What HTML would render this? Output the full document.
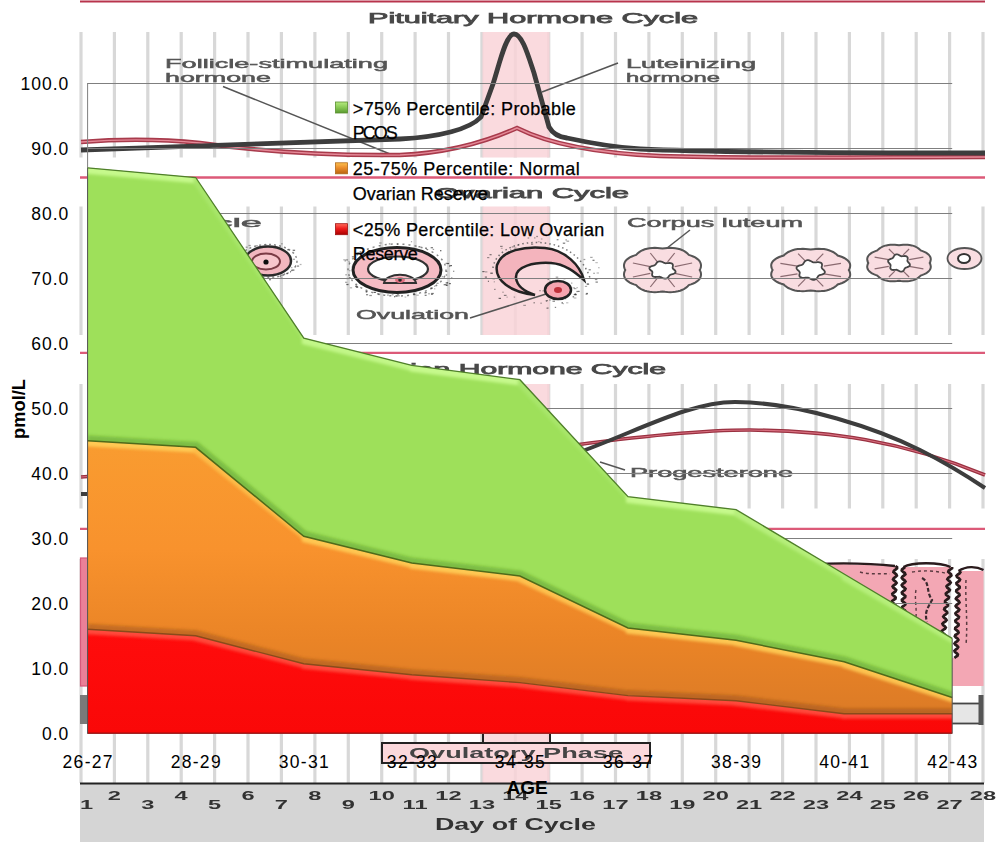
<!DOCTYPE html><html><head><meta charset="utf-8"><style>
html,body{margin:0;padding:0;background:#fff;width:1006px;height:843px;overflow:hidden}
svg{display:block}
text{font-family:"Liberation Sans",sans-serif}
</style></head><body>
<svg width="1006" height="843" viewBox="0 0 1006 843">
<defs>
<filter id="bl" x="-5%" y="-5%" width="110%" height="110%"><feGaussianBlur stdDeviation="0.7"/></filter>
<filter id="bl3" x="-5%" y="-20%" width="110%" height="140%"><feGaussianBlur stdDeviation="1.8"/></filter>
<filter id="bl2" x="-5%" y="-20%" width="110%" height="140%"><feGaussianBlur stdDeviation="1.2"/></filter>
<linearGradient id="gOr" gradientUnits="userSpaceOnUse" x1="0" y1="440" x2="0" y2="714"><stop offset="0" stop-color="#f99c30"/><stop offset="0.4" stop-color="#f8922d"/><stop offset="0.73" stop-color="#ea8426"/><stop offset="1" stop-color="#dc7b26"/></linearGradient>
<linearGradient id="gRd" x1="0" y1="0" x2="0" y2="1"><stop offset="0" stop-color="#ff0c0c"/><stop offset="1" stop-color="#fa0808"/></linearGradient>

<clipPath id="cG"><path d="M87.6,167.8 195.7,177.5 303.8,338.1 411.8,365.4 519.9,379.7 628.0,496.7 736.1,509.7 844.1,574.0 952.2,638.4 L952.2,697.5 844.1,661.8 736.1,640.3 628.0,628.0 519.9,576.0 411.8,563.0 303.8,536.3 195.7,447.3 87.6,440.8 Z"/></clipPath>
<clipPath id="cO"><path d="M87.6,440.8 195.7,447.3 303.8,536.3 411.8,563.0 519.9,576.0 628.0,628.0 736.1,640.3 844.1,661.8 952.2,697.5 L952.2,713.8 844.1,713.8 736.1,700.8 628.0,695.6 519.9,682.6 411.8,674.8 303.8,663.8 195.7,635.8 87.6,629.3 Z"/></clipPath>
<clipPath id="cR"><path d="M87.6,733.3 L87.6,629.3 195.7,635.8 303.8,663.8 411.8,674.8 519.9,682.6 628.0,695.6 736.1,700.8 844.1,713.8 952.2,713.8 L952.2,733.3 Z"/></clipPath>
<linearGradient id="mG" x1="0" y1="0" x2="0" y2="1"><stop offset="0" stop-color="#b6ea80"/><stop offset="0.45" stop-color="#8ccc58"/><stop offset="1" stop-color="#5a9a30"/></linearGradient>
<linearGradient id="mO" x1="0" y1="0" x2="0" y2="1"><stop offset="0" stop-color="#fcc050"/><stop offset="0.45" stop-color="#ec8e2c"/><stop offset="1" stop-color="#b86410"/></linearGradient>
<linearGradient id="mR" x1="0" y1="0" x2="0" y2="1"><stop offset="0" stop-color="#ff6a5a"/><stop offset="0.45" stop-color="#ee1c1c"/><stop offset="1" stop-color="#a80000"/></linearGradient>
</defs>
<g id="bg">
<line x1="80" y1="1.6" x2="985" y2="1.6" stroke="#b8344c" stroke-width="2"/>
<line x1="80" y1="177.5" x2="985" y2="177.5" stroke="#dc5a78" stroke-width="2.3"/>
<line x1="80" y1="352.8" x2="985" y2="352.8" stroke="#dc5a78" stroke-width="2.3"/>
<line x1="80" y1="528.8" x2="985" y2="528.8" stroke="#dc5a78" stroke-width="2.3"/>
<g stroke="#d8d8d8" stroke-width="3.2">
<line x1="81.0" y1="32" x2="81.0" y2="157.5"/>
<line x1="114.4" y1="32" x2="114.4" y2="157.5"/>
<line x1="147.8" y1="32" x2="147.8" y2="157.5"/>
<line x1="181.2" y1="32" x2="181.2" y2="157.5"/>
<line x1="214.6" y1="32" x2="214.6" y2="157.5"/>
<line x1="248.0" y1="32" x2="248.0" y2="157.5"/>
<line x1="281.4" y1="32" x2="281.4" y2="157.5"/>
<line x1="314.9" y1="32" x2="314.9" y2="157.5"/>
<line x1="348.3" y1="32" x2="348.3" y2="157.5"/>
<line x1="381.7" y1="32" x2="381.7" y2="157.5"/>
<line x1="415.1" y1="32" x2="415.1" y2="157.5"/>
<line x1="448.5" y1="32" x2="448.5" y2="157.5"/>
<line x1="481.9" y1="32" x2="481.9" y2="157.5"/>
<line x1="515.3" y1="32" x2="515.3" y2="157.5"/>
<line x1="548.7" y1="32" x2="548.7" y2="157.5"/>
<line x1="582.1" y1="32" x2="582.1" y2="157.5"/>
<line x1="615.5" y1="32" x2="615.5" y2="157.5"/>
<line x1="648.9" y1="32" x2="648.9" y2="157.5"/>
<line x1="682.3" y1="32" x2="682.3" y2="157.5"/>
<line x1="715.7" y1="32" x2="715.7" y2="157.5"/>
<line x1="749.1" y1="32" x2="749.1" y2="157.5"/>
<line x1="782.6" y1="32" x2="782.6" y2="157.5"/>
<line x1="816.0" y1="32" x2="816.0" y2="157.5"/>
<line x1="849.4" y1="32" x2="849.4" y2="157.5"/>
<line x1="882.8" y1="32" x2="882.8" y2="157.5"/>
<line x1="916.2" y1="32" x2="916.2" y2="157.5"/>
<line x1="949.6" y1="32" x2="949.6" y2="157.5"/>
<line x1="983.0" y1="32" x2="983.0" y2="157.5"/>
<line x1="81.0" y1="206.5" x2="81.0" y2="335"/>
<line x1="114.4" y1="206.5" x2="114.4" y2="335"/>
<line x1="147.8" y1="206.5" x2="147.8" y2="335"/>
<line x1="181.2" y1="206.5" x2="181.2" y2="335"/>
<line x1="214.6" y1="206.5" x2="214.6" y2="335"/>
<line x1="248.0" y1="206.5" x2="248.0" y2="335"/>
<line x1="281.4" y1="206.5" x2="281.4" y2="335"/>
<line x1="314.9" y1="206.5" x2="314.9" y2="335"/>
<line x1="348.3" y1="206.5" x2="348.3" y2="335"/>
<line x1="381.7" y1="206.5" x2="381.7" y2="335"/>
<line x1="415.1" y1="206.5" x2="415.1" y2="335"/>
<line x1="448.5" y1="206.5" x2="448.5" y2="335"/>
<line x1="481.9" y1="206.5" x2="481.9" y2="335"/>
<line x1="515.3" y1="206.5" x2="515.3" y2="335"/>
<line x1="548.7" y1="206.5" x2="548.7" y2="335"/>
<line x1="582.1" y1="206.5" x2="582.1" y2="335"/>
<line x1="615.5" y1="206.5" x2="615.5" y2="335"/>
<line x1="648.9" y1="206.5" x2="648.9" y2="335"/>
<line x1="682.3" y1="206.5" x2="682.3" y2="335"/>
<line x1="715.7" y1="206.5" x2="715.7" y2="335"/>
<line x1="749.1" y1="206.5" x2="749.1" y2="335"/>
<line x1="782.6" y1="206.5" x2="782.6" y2="335"/>
<line x1="816.0" y1="206.5" x2="816.0" y2="335"/>
<line x1="849.4" y1="206.5" x2="849.4" y2="335"/>
<line x1="882.8" y1="206.5" x2="882.8" y2="335"/>
<line x1="916.2" y1="206.5" x2="916.2" y2="335"/>
<line x1="949.6" y1="206.5" x2="949.6" y2="335"/>
<line x1="983.0" y1="206.5" x2="983.0" y2="335"/>
<line x1="81.0" y1="384" x2="81.0" y2="508.5"/>
<line x1="114.4" y1="384" x2="114.4" y2="508.5"/>
<line x1="147.8" y1="384" x2="147.8" y2="508.5"/>
<line x1="181.2" y1="384" x2="181.2" y2="508.5"/>
<line x1="214.6" y1="384" x2="214.6" y2="508.5"/>
<line x1="248.0" y1="384" x2="248.0" y2="508.5"/>
<line x1="281.4" y1="384" x2="281.4" y2="508.5"/>
<line x1="314.9" y1="384" x2="314.9" y2="508.5"/>
<line x1="348.3" y1="384" x2="348.3" y2="508.5"/>
<line x1="381.7" y1="384" x2="381.7" y2="508.5"/>
<line x1="415.1" y1="384" x2="415.1" y2="508.5"/>
<line x1="448.5" y1="384" x2="448.5" y2="508.5"/>
<line x1="481.9" y1="384" x2="481.9" y2="508.5"/>
<line x1="515.3" y1="384" x2="515.3" y2="508.5"/>
<line x1="548.7" y1="384" x2="548.7" y2="508.5"/>
<line x1="582.1" y1="384" x2="582.1" y2="508.5"/>
<line x1="615.5" y1="384" x2="615.5" y2="508.5"/>
<line x1="648.9" y1="384" x2="648.9" y2="508.5"/>
<line x1="682.3" y1="384" x2="682.3" y2="508.5"/>
<line x1="715.7" y1="384" x2="715.7" y2="508.5"/>
<line x1="749.1" y1="384" x2="749.1" y2="508.5"/>
<line x1="782.6" y1="384" x2="782.6" y2="508.5"/>
<line x1="816.0" y1="384" x2="816.0" y2="508.5"/>
<line x1="849.4" y1="384" x2="849.4" y2="508.5"/>
<line x1="882.8" y1="384" x2="882.8" y2="508.5"/>
<line x1="916.2" y1="384" x2="916.2" y2="508.5"/>
<line x1="949.6" y1="384" x2="949.6" y2="508.5"/>
<line x1="983.0" y1="384" x2="983.0" y2="508.5"/>
<line x1="81.0" y1="559" x2="81.0" y2="783"/>
<line x1="114.4" y1="559" x2="114.4" y2="783"/>
<line x1="147.8" y1="559" x2="147.8" y2="783"/>
<line x1="181.2" y1="559" x2="181.2" y2="783"/>
<line x1="214.6" y1="559" x2="214.6" y2="783"/>
<line x1="248.0" y1="559" x2="248.0" y2="783"/>
<line x1="281.4" y1="559" x2="281.4" y2="783"/>
<line x1="314.9" y1="559" x2="314.9" y2="783"/>
<line x1="348.3" y1="559" x2="348.3" y2="783"/>
<line x1="381.7" y1="559" x2="381.7" y2="783"/>
<line x1="415.1" y1="559" x2="415.1" y2="783"/>
<line x1="448.5" y1="559" x2="448.5" y2="783"/>
<line x1="481.9" y1="559" x2="481.9" y2="783"/>
<line x1="515.3" y1="559" x2="515.3" y2="783"/>
<line x1="548.7" y1="559" x2="548.7" y2="783"/>
<line x1="582.1" y1="559" x2="582.1" y2="783"/>
<line x1="615.5" y1="559" x2="615.5" y2="783"/>
<line x1="648.9" y1="559" x2="648.9" y2="783"/>
<line x1="682.3" y1="559" x2="682.3" y2="783"/>
<line x1="715.7" y1="559" x2="715.7" y2="783"/>
<line x1="749.1" y1="559" x2="749.1" y2="783"/>
<line x1="782.6" y1="559" x2="782.6" y2="783"/>
<line x1="816.0" y1="559" x2="816.0" y2="783"/>
<line x1="849.4" y1="559" x2="849.4" y2="783"/>
<line x1="882.8" y1="559" x2="882.8" y2="783"/>
<line x1="916.2" y1="559" x2="916.2" y2="783"/>
<line x1="949.6" y1="559" x2="949.6" y2="783"/>
<line x1="983.0" y1="559" x2="983.0" y2="783"/>
</g>
<rect x="482.5" y="32" width="67" height="125.5" fill="#f9d4d8" opacity="0.85"/>
<rect x="482.5" y="206.5" width="67" height="128.5" fill="#f9d4d8" opacity="0.85"/>
<rect x="482.5" y="384" width="67" height="124.5" fill="#f9d4d8" opacity="0.85"/>
<rect x="482.5" y="733" width="67" height="50" fill="#f9d4d8" opacity="0.85"/>
<g fill="#484848" stroke="#484848" stroke-width="0.75" filter="url(#bl)">
<text x="368" y="22.6" font-size="14.5" textLength="330" lengthAdjust="spacingAndGlyphs">Pituitary Hormone Cycle</text>
<text x="435" y="197.8" font-size="14.5" textLength="194" lengthAdjust="spacingAndGlyphs">Ovarian Cycle</text>
<text x="345" y="373.5" font-size="14.5" textLength="321" lengthAdjust="spacingAndGlyphs">Ovarian Hormone Cycle</text>
</g>
<g fill="#555" stroke="#555" stroke-width="0.5" filter="url(#bl)">
<text x="165" y="68" font-size="13" textLength="223" lengthAdjust="spacingAndGlyphs">Follicle-stimulating</text>
<text x="165" y="82" font-size="13" textLength="106" lengthAdjust="spacingAndGlyphs">hormone</text>
<text x="626" y="68" font-size="13" textLength="130" lengthAdjust="spacingAndGlyphs">Luteinizing</text>
<text x="626" y="82" font-size="13" textLength="94" lengthAdjust="spacingAndGlyphs">hormone</text>
<text x="627" y="227" font-size="13" textLength="176" lengthAdjust="spacingAndGlyphs">Corpus luteum</text>
<text x="356" y="319" font-size="13" textLength="113" lengthAdjust="spacingAndGlyphs">Ovulation</text>
<text x="205" y="227" font-size="13" textLength="57" lengthAdjust="spacingAndGlyphs">icle</text>
<text x="630" y="477" font-size="13" textLength="163" lengthAdjust="spacingAndGlyphs">Progesterone</text>
</g>
<g stroke="#555" stroke-width="1.5" fill="none">
<path d="M223,86.5 L395,156"/>
<path d="M618,63 L542,92"/>
<path d="M690,230 L662,252"/>
<path d="M470,318 L546,294"/>
<path d="M600,462 L625,470"/>
</g>
<g fill="none" filter="url(#bl)">
<path d="M81,142 C120,139 160,139 200,143 C250,150 320,156 400,155 C450,153 490,140 517,128 C545,142 590,153 660,156 C760,159 880,157 985,157" stroke="#a83a4c" stroke-width="4.5"/>
<path d="M81,142 C120,139 160,139 200,143 C250,150 320,156 400,155 C450,153 490,140 517,128 C545,142 590,153 660,156 C760,159 880,157 985,157" stroke="#e58a98" stroke-width="1.4"/>
<path d="M81,150 C200,146 330,142 400,139 C440,137 470,129 481,117 L493,84 C500,62 506,34 514,34 C522,34 528,55 534,73 L549,127 C553,134 558,137 567,138 C590,143 610,147 640,149 C700,152 800,153 985,153" stroke="#3c3c3c" stroke-width="4.8"/>
</g>
<g fill="none" filter="url(#bl)">
<path d="M81,477 C200,470 300,440 450,440 C520,440 530,450 560,447 C640,436 700,430 750,430 C830,431 900,440 985,475" stroke="#9a3040" stroke-width="3.6"/>
<path d="M81,477 C200,470 300,440 450,440 C520,440 530,450 560,447 C640,436 700,430 750,430 C830,431 900,440 985,475" stroke="#d87080" stroke-width="1.1"/>
<path d="M81,494 C250,494 450,494 540,480 C560,470 570,460 580,452 C640,430 690,402 735,402 C800,402 880,430 920,450 C950,465 970,478 985,488" stroke="#3c3c3c" stroke-width="4"/>
</g>
<g filter="url(#bl)">
<ellipse cx="268" cy="261" rx="29" ry="16.5" fill="none" stroke="#555" stroke-width="1.5" stroke-dasharray="2 3" opacity="0.7"/>
<ellipse cx="268" cy="261" rx="23" ry="14.5" fill="#f2b7bf" stroke="#2a2a2a" stroke-width="2.5"/>
<ellipse cx="266" cy="261.5" rx="14" ry="8" fill="#f7c6cc" stroke="#7a3a44" stroke-width="2"/>
<circle cx="266" cy="262" r="2.6" fill="#111"/>
<ellipse cx="397" cy="270" rx="49" ry="26" fill="none" stroke="#555" stroke-width="1.5" stroke-dasharray="2 4" opacity="0.7"/>
<ellipse cx="397" cy="270" rx="44" ry="22.5" fill="#f5bcc4" stroke="#222" stroke-width="3"/>
<ellipse cx="398" cy="269" rx="30" ry="12.5" fill="#fff" stroke="#333" stroke-width="2.2"/>
<path d="M384,283 C386,272 414,272 416,283 Z" fill="#f5bcc4" stroke="#333" stroke-width="2"/>
<ellipse cx="400" cy="280" rx="5" ry="3" fill="#e07080"/>
<circle cx="400" cy="280" r="1.8" fill="#222"/>
<path d="M535,295 C510,292 494,280 497,265 C502,250 525,246 545,248 C565,250 580,265 584,280 C575,272 565,264 551,263 C535,262 515,266 516,278 C517,286 525,292 535,295 Z" fill="#f4b4bd" stroke="#222" stroke-width="2.5"/>
<path d="M493,268 C495,250 520,240 545,243 C570,246 585,262 590,278" fill="none" stroke="#555" stroke-width="1.5" stroke-dasharray="1.5 3" opacity="0.8"/>
<ellipse cx="558" cy="290" rx="13" ry="9" fill="#f7a5b0" stroke="#222" stroke-width="2.5"/>
<ellipse cx="558" cy="290" rx="4" ry="3" fill="#c0303a"/>
<g>
<rect x="256.5" y="275.4" width="2.0" height="1.2" fill="#333" opacity="0.34"/><rect x="241.3" y="257.2" width="1.1" height="1.2" fill="#333" opacity="0.55"/><rect x="295.1" y="265.1" width="1.1" height="1.2" fill="#333" opacity="0.35"/><rect x="240.4" y="269.9" width="1.2" height="1.2" fill="#333" opacity="0.41"/><rect x="245.7" y="246.6" width="1.9" height="1.2" fill="#333" opacity="0.50"/><rect x="292.6" y="258.7" width="2.4" height="1.2" fill="#333" opacity="0.44"/><rect x="283.7" y="273.5" width="1.5" height="1.2" fill="#333" opacity="0.71"/><rect x="280.3" y="277.5" width="2.0" height="1.2" fill="#333" opacity="0.49"/><rect x="244.1" y="256.4" width="1.1" height="1.2" fill="#333" opacity="0.40"/><rect x="256.2" y="245.2" width="1.5" height="1.2" fill="#333" opacity="0.59"/><rect x="242.3" y="265.9" width="2.3" height="1.2" fill="#333" opacity="0.65"/><rect x="269.1" y="279.1" width="1.8" height="1.2" fill="#333" opacity="0.74"/><rect x="264.6" y="244.4" width="2.6" height="1.2" fill="#333" opacity="0.36"/><rect x="241.5" y="270.4" width="1.2" height="1.2" fill="#333" opacity="0.54"/><rect x="296.9" y="265.5" width="2.2" height="1.2" fill="#333" opacity="0.59"/><rect x="287.1" y="249.1" width="2.1" height="1.2" fill="#333" opacity="0.60"/><rect x="243.4" y="252.6" width="2.3" height="1.2" fill="#333" opacity="0.77"/><rect x="238.7" y="264.0" width="1.1" height="1.2" fill="#333" opacity="0.65"/><rect x="248.5" y="244.9" width="2.3" height="1.2" fill="#333" opacity="0.44"/><rect x="245.6" y="273.2" width="1.0" height="1.2" fill="#333" opacity="0.53"/><rect x="280.5" y="274.8" width="1.1" height="1.2" fill="#333" opacity="0.68"/><rect x="286.2" y="273.0" width="1.6" height="1.2" fill="#333" opacity="0.74"/><rect x="292.5" y="269.5" width="1.9" height="1.2" fill="#333" opacity="0.74"/><rect x="281.2" y="243.2" width="1.4" height="1.2" fill="#333" opacity="0.51"/><rect x="248.1" y="276.3" width="2.5" height="1.2" fill="#333" opacity="0.38"/><rect x="279.8" y="275.7" width="1.4" height="1.2" fill="#333" opacity="0.54"/><rect x="245.5" y="252.2" width="1.0" height="1.2" fill="#333" opacity="0.51"/><rect x="248.3" y="274.3" width="2.5" height="1.2" fill="#333" opacity="0.65"/><rect x="238.8" y="259.2" width="2.1" height="1.2" fill="#333" opacity="0.33"/><rect x="292.7" y="249.7" width="2.4" height="1.2" fill="#333" opacity="0.70"/><rect x="246.4" y="271.8" width="1.2" height="1.2" fill="#333" opacity="0.62"/><rect x="291.1" y="267.0" width="1.3" height="1.2" fill="#333" opacity="0.38"/><rect x="254.7" y="274.1" width="1.0" height="1.2" fill="#333" opacity="0.38"/><rect x="290.0" y="271.2" width="1.0" height="1.2" fill="#333" opacity="0.74"/><rect x="248.7" y="250.5" width="1.4" height="1.2" fill="#333" opacity="0.47"/><rect x="251.3" y="273.0" width="2.4" height="1.2" fill="#333" opacity="0.80"/><rect x="240.3" y="264.8" width="1.1" height="1.2" fill="#333" opacity="0.35"/><rect x="253.4" y="274.9" width="2.3" height="1.2" fill="#333" opacity="0.38"/><rect x="299.7" y="263.9" width="1.8" height="1.2" fill="#333" opacity="0.37"/><rect x="244.2" y="256.9" width="1.8" height="1.2" fill="#333" opacity="0.79"/>
<rect x="432.7" y="248.8" width="1.4" height="1.2" fill="#333" opacity="0.48"/><rect x="424.7" y="294.7" width="1.9" height="1.2" fill="#333" opacity="0.69"/><rect x="373.6" y="291.8" width="2.3" height="1.2" fill="#333" opacity="0.79"/><rect x="430.7" y="247.1" width="2.3" height="1.2" fill="#333" opacity="0.67"/><rect x="404.6" y="296.5" width="1.6" height="1.2" fill="#333" opacity="0.31"/><rect x="445.7" y="274.4" width="1.4" height="1.2" fill="#333" opacity="0.65"/><rect x="446.6" y="262.9" width="2.5" height="1.2" fill="#333" opacity="0.79"/><rect x="445.5" y="262.8" width="1.4" height="1.2" fill="#333" opacity="0.41"/><rect x="412.9" y="293.4" width="2.0" height="1.2" fill="#333" opacity="0.75"/><rect x="425.0" y="247.6" width="2.0" height="1.2" fill="#333" opacity="0.70"/><rect x="443.7" y="284.1" width="2.5" height="1.2" fill="#333" opacity="0.69"/><rect x="397.0" y="243.5" width="1.3" height="1.2" fill="#333" opacity="0.69"/><rect x="369.3" y="294.9" width="2.6" height="1.2" fill="#333" opacity="0.50"/><rect x="349.9" y="287.2" width="2.2" height="1.2" fill="#333" opacity="0.39"/><rect x="430.4" y="287.5" width="2.4" height="1.2" fill="#333" opacity="0.70"/><rect x="431.2" y="292.9" width="2.6" height="1.2" fill="#333" opacity="0.63"/><rect x="365.8" y="291.8" width="1.2" height="1.2" fill="#333" opacity="0.31"/><rect x="450.2" y="265.0" width="1.8" height="1.2" fill="#333" opacity="0.77"/><rect x="345.0" y="281.7" width="2.3" height="1.2" fill="#333" opacity="0.41"/><rect x="396.4" y="295.3" width="1.4" height="1.2" fill="#333" opacity="0.59"/><rect x="394.0" y="296.1" width="1.2" height="1.2" fill="#333" opacity="0.76"/><rect x="365.6" y="291.0" width="1.9" height="1.2" fill="#333" opacity="0.75"/><rect x="346.5" y="284.0" width="1.8" height="1.2" fill="#333" opacity="0.57"/><rect x="351.4" y="266.5" width="1.7" height="1.2" fill="#333" opacity="0.39"/><rect x="453.0" y="270.7" width="1.3" height="1.2" fill="#333" opacity="0.54"/><rect x="388.8" y="243.3" width="1.5" height="1.2" fill="#333" opacity="0.56"/><rect x="344.6" y="260.3" width="1.2" height="1.2" fill="#333" opacity="0.58"/><rect x="397.5" y="295.2" width="2.2" height="1.2" fill="#333" opacity="0.55"/><rect x="345.6" y="259.3" width="2.5" height="1.2" fill="#333" opacity="0.52"/><rect x="357.3" y="252.6" width="1.8" height="1.2" fill="#333" opacity="0.65"/><rect x="346.7" y="277.9" width="1.8" height="1.2" fill="#333" opacity="0.77"/><rect x="379.1" y="242.4" width="2.5" height="1.2" fill="#333" opacity="0.43"/><rect x="343.2" y="259.2" width="2.3" height="1.2" fill="#333" opacity="0.37"/><rect x="434.2" y="288.2" width="1.1" height="1.2" fill="#333" opacity="0.42"/><rect x="445.7" y="282.3" width="2.3" height="1.2" fill="#333" opacity="0.75"/><rect x="428.0" y="293.2" width="2.1" height="1.2" fill="#333" opacity="0.37"/><rect x="440.0" y="250.1" width="1.4" height="1.2" fill="#333" opacity="0.78"/><rect x="355.2" y="285.9" width="2.6" height="1.2" fill="#333" opacity="0.72"/><rect x="424.1" y="292.3" width="1.8" height="1.2" fill="#333" opacity="0.47"/><rect x="413.7" y="294.0" width="2.2" height="1.2" fill="#333" opacity="0.31"/><rect x="348.5" y="261.2" width="1.0" height="1.2" fill="#333" opacity="0.47"/><rect x="359.7" y="251.2" width="1.1" height="1.2" fill="#333" opacity="0.79"/><rect x="410.9" y="241.1" width="1.2" height="1.2" fill="#333" opacity="0.43"/><rect x="451.0" y="277.0" width="1.4" height="1.2" fill="#333" opacity="0.36"/><rect x="346.3" y="283.8" width="2.3" height="1.2" fill="#333" opacity="0.43"/><rect x="431.0" y="293.7" width="1.9" height="1.2" fill="#333" opacity="0.65"/><rect x="436.5" y="282.7" width="2.1" height="1.2" fill="#333" opacity="0.51"/><rect x="448.9" y="283.0" width="2.0" height="1.2" fill="#333" opacity="0.70"/><rect x="446.0" y="284.6" width="1.1" height="1.2" fill="#333" opacity="0.73"/><rect x="348.9" y="277.3" width="1.9" height="1.2" fill="#333" opacity="0.76"/><rect x="391.7" y="294.1" width="1.8" height="1.2" fill="#333" opacity="0.42"/><rect x="434.0" y="285.6" width="1.1" height="1.2" fill="#333" opacity="0.40"/><rect x="378.1" y="293.5" width="2.2" height="1.2" fill="#333" opacity="0.44"/><rect x="348.9" y="270.0" width="1.6" height="1.2" fill="#333" opacity="0.31"/><rect x="396.9" y="293.6" width="2.2" height="1.2" fill="#333" opacity="0.58"/><rect x="416.3" y="294.6" width="2.5" height="1.2" fill="#333" opacity="0.35"/><rect x="418.5" y="246.2" width="1.8" height="1.2" fill="#333" opacity="0.72"/><rect x="356.1" y="286.6" width="2.1" height="1.2" fill="#333" opacity="0.79"/><rect x="366.0" y="294.1" width="2.1" height="1.2" fill="#333" opacity="0.62"/><rect x="355.5" y="284.5" width="1.1" height="1.2" fill="#333" opacity="0.36"/><rect x="446.9" y="282.1" width="1.4" height="1.2" fill="#333" opacity="0.38"/><rect x="445.7" y="284.6" width="2.4" height="1.2" fill="#333" opacity="0.64"/><rect x="387.2" y="294.5" width="1.5" height="1.2" fill="#333" opacity="0.53"/><rect x="425.3" y="292.0" width="1.4" height="1.2" fill="#333" opacity="0.78"/><rect x="449.0" y="265.4" width="1.4" height="1.2" fill="#333" opacity="0.78"/><rect x="378.6" y="294.0" width="1.0" height="1.2" fill="#333" opacity="0.49"/><rect x="345.4" y="274.2" width="1.3" height="1.2" fill="#333" opacity="0.55"/><rect x="446.2" y="270.8" width="1.1" height="1.2" fill="#333" opacity="0.50"/><rect x="441.6" y="276.1" width="1.5" height="1.2" fill="#333" opacity="0.42"/><rect x="351.9" y="256.2" width="2.2" height="1.2" fill="#333" opacity="0.63"/>
<rect x="527.6" y="237.4" width="1.6" height="1.2" fill="#333" opacity="0.46"/><rect x="588.6" y="269.2" width="2.2" height="1.2" fill="#333" opacity="0.62"/><rect x="595.5" y="281.5" width="2.4" height="1.2" fill="#333" opacity="0.61"/><rect x="534.2" y="237.3" width="1.2" height="1.2" fill="#333" opacity="0.56"/><rect x="482.3" y="271.0" width="2.3" height="1.2" fill="#333" opacity="0.71"/><rect x="489.5" y="254.1" width="2.1" height="1.2" fill="#333" opacity="0.65"/><rect x="545.9" y="300.6" width="1.2" height="1.2" fill="#333" opacity="0.48"/><rect x="585.6" y="293.5" width="1.9" height="1.2" fill="#333" opacity="0.61"/><rect x="500.9" y="247.8" width="1.8" height="1.2" fill="#333" opacity="0.30"/><rect x="556.7" y="239.1" width="1.8" height="1.2" fill="#333" opacity="0.57"/><rect x="514.2" y="247.5" width="2.2" height="1.2" fill="#333" opacity="0.43"/><rect x="584.9" y="285.8" width="2.2" height="1.2" fill="#333" opacity="0.40"/><rect x="536.2" y="235.9" width="1.8" height="1.2" fill="#333" opacity="0.49"/><rect x="484.8" y="276.5" width="2.2" height="1.2" fill="#333" opacity="0.61"/><rect x="510.1" y="249.2" width="1.2" height="1.2" fill="#333" opacity="0.43"/><rect x="537.8" y="241.1" width="1.9" height="1.2" fill="#333" opacity="0.31"/><rect x="586.8" y="283.4" width="2.1" height="1.2" fill="#333" opacity="0.65"/><rect x="517.2" y="244.5" width="1.8" height="1.2" fill="#333" opacity="0.53"/><rect x="492.6" y="278.2" width="2.4" height="1.2" fill="#333" opacity="0.40"/><rect x="598.4" y="267.1" width="1.0" height="1.2" fill="#333" opacity="0.53"/><rect x="565.3" y="239.3" width="1.7" height="1.2" fill="#333" opacity="0.43"/><rect x="554.8" y="306.8" width="1.3" height="1.2" fill="#333" opacity="0.59"/><rect x="573.8" y="297.4" width="2.5" height="1.2" fill="#333" opacity="0.37"/><rect x="562.8" y="242.6" width="2.4" height="1.2" fill="#333" opacity="0.65"/><rect x="546.8" y="307.4" width="1.8" height="1.2" fill="#333" opacity="0.31"/><rect x="593.2" y="272.7" width="1.7" height="1.2" fill="#333" opacity="0.45"/><rect x="572.6" y="296.2" width="1.5" height="1.2" fill="#333" opacity="0.72"/><rect x="596.6" y="272.4" width="2.3" height="1.2" fill="#333" opacity="0.36"/><rect x="590.2" y="256.8" width="2.4" height="1.2" fill="#333" opacity="0.44"/><rect x="503.9" y="294.8" width="2.6" height="1.2" fill="#333" opacity="0.59"/><rect x="506.4" y="296.5" width="1.4" height="1.2" fill="#333" opacity="0.32"/><rect x="586.3" y="292.9" width="1.5" height="1.2" fill="#333" opacity="0.77"/><rect x="540.2" y="302.6" width="1.8" height="1.2" fill="#333" opacity="0.39"/><rect x="498.6" y="297.8" width="2.4" height="1.2" fill="#333" opacity="0.71"/><rect x="500.1" y="245.8" width="2.5" height="1.2" fill="#333" opacity="0.57"/><rect x="531.0" y="243.6" width="2.2" height="1.2" fill="#333" opacity="0.53"/><rect x="540.9" y="238.4" width="1.5" height="1.2" fill="#333" opacity="0.32"/><rect x="583.5" y="258.9" width="1.8" height="1.2" fill="#333" opacity="0.47"/><rect x="523.3" y="304.8" width="2.6" height="1.2" fill="#333" opacity="0.43"/><rect x="511.7" y="246.3" width="1.9" height="1.2" fill="#333" opacity="0.50"/><rect x="564.3" y="297.9" width="1.3" height="1.2" fill="#333" opacity="0.75"/><rect x="490.3" y="272.6" width="2.5" height="1.2" fill="#333" opacity="0.80"/><rect x="493.7" y="281.2" width="1.3" height="1.2" fill="#333" opacity="0.35"/><rect x="513.7" y="296.5" width="1.4" height="1.2" fill="#333" opacity="0.43"/><rect x="487.1" y="257.0" width="2.2" height="1.2" fill="#333" opacity="0.51"/><rect x="494.0" y="288.8" width="1.6" height="1.2" fill="#333" opacity="0.47"/><rect x="586.7" y="283.7" width="2.5" height="1.2" fill="#333" opacity="0.36"/><rect x="485.0" y="271.3" width="2.4" height="1.2" fill="#333" opacity="0.41"/><rect x="533.4" y="302.2" width="1.6" height="1.2" fill="#333" opacity="0.52"/><rect x="595.4" y="262.0" width="2.4" height="1.2" fill="#333" opacity="0.31"/><rect x="594.9" y="278.9" width="2.4" height="1.2" fill="#333" opacity="0.54"/><rect x="499.9" y="257.1" width="1.6" height="1.2" fill="#333" opacity="0.76"/><rect x="566.5" y="240.6" width="2.6" height="1.2" fill="#333" opacity="0.42"/><rect x="577.9" y="290.8" width="1.8" height="1.2" fill="#333" opacity="0.64"/><rect x="592.5" y="259.7" width="2.0" height="1.2" fill="#333" opacity="0.68"/><rect x="487.9" y="280.7" width="1.1" height="1.2" fill="#333" opacity="0.69"/><rect x="546.4" y="307.6" width="2.0" height="1.2" fill="#333" opacity="0.45"/><rect x="574.8" y="294.0" width="2.0" height="1.2" fill="#333" opacity="0.65"/><rect x="576.4" y="290.9" width="1.8" height="1.2" fill="#333" opacity="0.59"/><rect x="502.0" y="291.6" width="2.0" height="1.2" fill="#333" opacity="0.31"/>
<rect x="552.5" y="300.6" width="2.5" height="1.2" fill="#333" opacity="0.62"/><rect x="571.0" y="282.5" width="1.4" height="1.2" fill="#333" opacity="0.42"/><rect x="576.4" y="287.0" width="1.5" height="1.2" fill="#333" opacity="0.31"/><rect x="539.2" y="290.1" width="1.7" height="1.2" fill="#333" opacity="0.43"/><rect x="547.8" y="278.6" width="1.4" height="1.2" fill="#333" opacity="0.32"/><rect x="549.0" y="299.4" width="2.1" height="1.2" fill="#333" opacity="0.40"/><rect x="563.6" y="278.2" width="1.8" height="1.2" fill="#333" opacity="0.40"/><rect x="574.1" y="288.0" width="2.3" height="1.2" fill="#333" opacity="0.42"/><rect x="561.5" y="302.3" width="1.5" height="1.2" fill="#333" opacity="0.78"/><rect x="542.5" y="290.3" width="1.4" height="1.2" fill="#333" opacity="0.51"/><rect x="547.5" y="278.6" width="1.2" height="1.2" fill="#333" opacity="0.50"/><rect x="562.8" y="303.0" width="1.2" height="1.2" fill="#333" opacity="0.33"/><rect x="573.7" y="294.0" width="2.4" height="1.2" fill="#333" opacity="0.74"/><rect x="555.7" y="276.6" width="2.5" height="1.2" fill="#333" opacity="0.46"/><rect x="566.1" y="302.2" width="2.2" height="1.2" fill="#333" opacity="0.32"/><rect x="549.4" y="280.7" width="1.6" height="1.2" fill="#333" opacity="0.47"/><rect x="564.9" y="298.0" width="1.4" height="1.2" fill="#333" opacity="0.48"/><rect x="572.5" y="287.3" width="2.5" height="1.2" fill="#333" opacity="0.40"/><rect x="545.7" y="300.0" width="2.3" height="1.2" fill="#333" opacity="0.52"/><rect x="574.6" y="293.4" width="1.6" height="1.2" fill="#333" opacity="0.76"/>
</g>
<path d="M699.7,270.0 L700.4,271.4 L700.9,272.9 L701.0,274.4 L700.9,275.9 L700.4,277.4 L699.6,278.8 L698.4,280.2 L696.9,281.4 L695.2,282.6 L693.2,283.5 L691.0,284.4 L688.8,285.1 L687.5,286.4 L686.1,287.6 L684.3,288.8 L682.4,289.8 L680.2,290.7 L677.9,291.3 L675.4,291.8 L672.8,292.1 L670.2,292.2 L667.5,292.1 L665.0,291.8 L662.5,291.4 L660.0,291.8 L657.5,292.1 L654.8,292.2 L652.2,292.1 L649.6,291.8 L647.1,291.3 L644.8,290.7 L642.6,289.8 L640.7,288.8 L638.9,287.6 L637.5,286.4 L636.2,285.1 L634.0,284.4 L631.8,283.5 L629.8,282.6 L628.1,281.4 L626.6,280.2 L625.4,278.8 L624.6,277.4 L624.1,275.9 L624.0,274.4 L624.1,272.9 L624.6,271.4 L625.3,270.0 L624.6,268.6 L624.1,267.1 L624.0,265.6 L624.1,264.1 L624.6,262.6 L625.4,261.2 L626.6,259.8 L628.1,258.6 L629.8,257.4 L631.8,256.5 L634.0,255.6 L636.2,254.9 L637.5,253.6 L638.9,252.4 L640.7,251.2 L642.6,250.2 L644.8,249.3 L647.1,248.7 L649.6,248.2 L652.2,247.9 L654.8,247.8 L657.5,247.9 L660.0,248.2 L662.5,248.6 L665.0,248.2 L667.5,247.9 L670.2,247.8 L672.8,247.9 L675.4,248.2 L677.9,248.7 L680.2,249.3 L682.4,250.2 L684.3,251.2 L686.1,252.4 L687.5,253.6 L688.8,254.9 L691.0,255.6 L693.2,256.5 L695.2,257.4 L696.9,258.6 L698.4,259.8 L699.6,261.2 L700.4,262.6 L700.9,264.1 L701.0,265.6 L700.9,267.1 L700.4,268.6 L699.7,270.0Z" fill="#f9dde1" stroke="#555" stroke-width="2"/>
<line x1="674.7" y1="273.4" x2="692.1" y2="277.0" stroke="#8a6a70" stroke-width="1.2"/>
<line x1="667.6" y1="278.1" x2="674.7" y2="287.0" stroke="#8a6a70" stroke-width="1.2"/>
<line x1="657.4" y1="278.1" x2="650.3" y2="287.0" stroke="#8a6a70" stroke-width="1.2"/>
<line x1="650.3" y1="273.4" x2="632.9" y2="277.0" stroke="#8a6a70" stroke-width="1.2"/>
<line x1="650.3" y1="266.6" x2="632.9" y2="263.0" stroke="#8a6a70" stroke-width="1.2"/>
<line x1="657.4" y1="261.9" x2="650.3" y2="253.0" stroke="#8a6a70" stroke-width="1.2"/>
<line x1="667.6" y1="261.9" x2="674.7" y2="253.0" stroke="#8a6a70" stroke-width="1.2"/>
<line x1="674.7" y1="266.6" x2="692.1" y2="263.0" stroke="#8a6a70" stroke-width="1.2"/>
<path d="M674.5,270.0 L675.1,270.6 L675.4,271.2 L675.6,271.9 L675.4,272.5 L674.9,273.0 L674.2,273.5 L673.4,273.8 L672.4,274.1 L671.5,274.4 L670.7,274.6 L670.1,274.9 L669.6,275.3 L669.2,275.7 L668.9,276.3 L668.5,276.9 L668.0,277.5 L667.4,278.1 L666.6,278.5 L665.7,278.7 L664.8,278.7 L663.8,278.5 L662.9,278.2 L662.1,277.8 L661.3,277.4 L660.6,277.1 L659.9,276.8 L659.2,276.7 L658.4,276.8 L657.5,276.8 L656.5,276.9 L655.5,277.0 L654.5,276.9 L653.6,276.6 L652.8,276.2 L652.4,275.7 L652.1,275.0 L652.1,274.3 L652.2,273.7 L652.3,273.0 L652.4,272.5 L652.3,271.9 L652.1,271.5 L651.7,271.0 L651.1,270.5 L650.5,270.0 L649.9,269.4 L649.6,268.8 L649.4,268.1 L649.6,267.5 L650.1,267.0 L650.8,266.5 L651.6,266.2 L652.6,265.9 L653.5,265.6 L654.3,265.4 L654.9,265.1 L655.4,264.7 L655.8,264.3 L656.1,263.7 L656.5,263.1 L657.0,262.5 L657.6,261.9 L658.4,261.5 L659.3,261.3 L660.2,261.3 L661.2,261.5 L662.1,261.8 L662.9,262.2 L663.7,262.6 L664.4,262.9 L665.1,263.2 L665.8,263.3 L666.6,263.2 L667.5,263.2 L668.5,263.1 L669.5,263.0 L670.5,263.1 L671.4,263.4 L672.2,263.8 L672.6,264.3 L672.9,265.0 L672.9,265.7 L672.8,266.3 L672.7,267.0 L672.6,267.5 L672.7,268.1 L672.9,268.5 L673.3,269.0 L673.9,269.5 L674.5,270.0Z" fill="#fff" stroke="#444" stroke-width="1.8"/>
<path d="M848.8,270.0 L849.5,271.4 L850.0,272.8 L850.2,274.2 L850.1,275.7 L849.6,277.1 L848.7,278.5 L847.5,279.7 L846.0,280.9 L844.2,282.0 L842.2,283.0 L840.0,283.8 L837.7,284.5 L836.4,285.7 L834.8,286.9 L833.1,288.0 L831.1,288.9 L828.9,289.8 L826.5,290.4 L823.9,290.9 L821.3,291.1 L818.6,291.2 L815.9,291.1 L813.2,290.8 L810.7,290.5 L808.2,290.8 L805.5,291.1 L802.8,291.2 L800.1,291.1 L797.5,290.9 L794.9,290.4 L792.5,289.8 L790.3,288.9 L788.3,288.0 L786.6,286.9 L785.0,285.7 L783.7,284.5 L781.4,283.8 L779.2,283.0 L777.2,282.0 L775.4,280.9 L773.9,279.7 L772.7,278.5 L771.8,277.1 L771.3,275.7 L771.2,274.2 L771.4,272.8 L771.9,271.4 L772.6,270.0 L771.9,268.6 L771.4,267.2 L771.2,265.8 L771.3,264.3 L771.8,262.9 L772.7,261.5 L773.9,260.3 L775.4,259.1 L777.2,258.0 L779.2,257.0 L781.4,256.2 L783.7,255.5 L785.0,254.3 L786.6,253.1 L788.3,252.0 L790.3,251.1 L792.5,250.2 L794.9,249.6 L797.5,249.1 L800.1,248.9 L802.8,248.8 L805.5,248.9 L808.2,249.2 L810.7,249.5 L813.2,249.2 L815.9,248.9 L818.6,248.8 L821.3,248.9 L823.9,249.1 L826.5,249.6 L828.9,250.2 L831.1,251.1 L833.1,252.0 L834.8,253.1 L836.4,254.3 L837.7,255.5 L840.0,256.2 L842.2,257.0 L844.2,258.0 L846.0,259.1 L847.5,260.3 L848.7,261.5 L849.6,262.9 L850.1,264.3 L850.2,265.8 L850.0,267.2 L849.5,268.6 L848.8,270.0Z" fill="#f9dde1" stroke="#555" stroke-width="2"/>
<line x1="823.9" y1="273.8" x2="841.0" y2="276.7" stroke="#8a6a70" stroke-width="1.2"/>
<line x1="816.2" y1="279.1" x2="823.3" y2="286.3" stroke="#8a6a70" stroke-width="1.2"/>
<line x1="805.2" y1="279.1" x2="798.1" y2="286.3" stroke="#8a6a70" stroke-width="1.2"/>
<line x1="797.5" y1="273.8" x2="780.4" y2="276.7" stroke="#8a6a70" stroke-width="1.2"/>
<line x1="797.5" y1="266.2" x2="780.4" y2="263.3" stroke="#8a6a70" stroke-width="1.2"/>
<line x1="805.2" y1="260.9" x2="798.1" y2="253.7" stroke="#8a6a70" stroke-width="1.2"/>
<line x1="816.2" y1="260.9" x2="823.3" y2="253.7" stroke="#8a6a70" stroke-width="1.2"/>
<line x1="823.9" y1="266.2" x2="841.0" y2="263.3" stroke="#8a6a70" stroke-width="1.2"/>
<path d="M823.7,270.0 L824.3,270.7 L824.7,271.4 L824.9,272.1 L824.7,272.8 L824.2,273.4 L823.4,273.9 L822.5,274.3 L821.4,274.7 L820.5,274.9 L819.6,275.2 L818.9,275.5 L818.4,275.9 L818.0,276.5 L817.6,277.1 L817.2,277.8 L816.7,278.5 L816.0,279.1 L815.2,279.5 L814.2,279.8 L813.2,279.8 L812.2,279.6 L811.2,279.2 L810.3,278.8 L809.4,278.3 L808.7,277.9 L807.9,277.7 L807.1,277.6 L806.3,277.6 L805.3,277.7 L804.2,277.8 L803.1,277.8 L802.0,277.7 L801.0,277.5 L800.2,277.0 L799.7,276.4 L799.4,275.7 L799.4,274.9 L799.5,274.1 L799.7,273.4 L799.8,272.8 L799.7,272.2 L799.4,271.7 L799.0,271.1 L798.4,270.6 L797.7,270.0 L797.1,269.3 L796.7,268.6 L796.5,267.9 L796.7,267.2 L797.2,266.6 L798.0,266.1 L798.9,265.7 L800.0,265.3 L800.9,265.1 L801.8,264.8 L802.5,264.5 L803.0,264.1 L803.4,263.5 L803.8,262.9 L804.2,262.2 L804.7,261.5 L805.4,260.9 L806.2,260.5 L807.2,260.2 L808.2,260.2 L809.2,260.4 L810.2,260.8 L811.1,261.2 L812.0,261.7 L812.7,262.1 L813.5,262.3 L814.3,262.4 L815.1,262.4 L816.1,262.3 L817.2,262.2 L818.3,262.2 L819.4,262.3 L820.4,262.5 L821.2,263.0 L821.7,263.6 L822.0,264.3 L822.0,265.1 L821.9,265.9 L821.7,266.6 L821.6,267.2 L821.7,267.8 L822.0,268.3 L822.4,268.9 L823.0,269.4 L823.7,270.0Z" fill="#fff" stroke="#444" stroke-width="1.8"/>
<path d="M929.7,263.0 L930.3,264.2 L930.6,265.4 L930.8,266.6 L930.7,267.9 L930.3,269.1 L929.6,270.3 L928.7,271.4 L927.4,272.4 L926.0,273.4 L924.3,274.2 L922.6,274.9 L920.7,275.5 L919.7,276.6 L918.4,277.6 L917.0,278.5 L915.4,279.4 L913.6,280.1 L911.7,280.6 L909.6,281.0 L907.5,281.3 L905.3,281.3 L903.2,281.2 L901.0,281.0 L899.0,280.7 L897.0,281.0 L894.8,281.2 L892.7,281.3 L890.5,281.3 L888.4,281.0 L886.3,280.6 L884.4,280.1 L882.6,279.4 L881.0,278.5 L879.6,277.6 L878.3,276.6 L877.3,275.5 L875.4,274.9 L873.7,274.2 L872.0,273.4 L870.6,272.4 L869.3,271.4 L868.4,270.3 L867.7,269.1 L867.3,267.9 L867.2,266.6 L867.4,265.4 L867.7,264.2 L868.3,263.0 L867.7,261.8 L867.4,260.6 L867.2,259.4 L867.3,258.1 L867.7,256.9 L868.4,255.7 L869.3,254.6 L870.6,253.6 L872.0,252.6 L873.7,251.8 L875.4,251.1 L877.3,250.5 L878.3,249.4 L879.6,248.4 L881.0,247.5 L882.6,246.6 L884.4,245.9 L886.3,245.4 L888.4,245.0 L890.5,244.7 L892.7,244.7 L894.8,244.8 L897.0,245.0 L899.0,245.3 L901.0,245.0 L903.2,244.8 L905.3,244.7 L907.5,244.7 L909.6,245.0 L911.7,245.4 L913.6,245.9 L915.4,246.6 L917.0,247.5 L918.4,248.4 L919.7,249.4 L920.7,250.5 L922.6,251.1 L924.3,251.8 L926.0,252.6 L927.4,253.6 L928.7,254.6 L929.6,255.7 L930.3,256.9 L930.7,258.1 L930.8,259.4 L930.6,260.6 L930.3,261.8 L929.7,263.0Z" fill="#f9dde1" stroke="#555" stroke-width="2"/>
<line x1="909.2" y1="266.4" x2="923.4" y2="268.8" stroke="#8a6a70" stroke-width="1.2"/>
<line x1="903.2" y1="271.1" x2="909.1" y2="277.0" stroke="#8a6a70" stroke-width="1.2"/>
<line x1="894.8" y1="271.1" x2="888.9" y2="277.0" stroke="#8a6a70" stroke-width="1.2"/>
<line x1="888.8" y1="266.4" x2="874.6" y2="268.8" stroke="#8a6a70" stroke-width="1.2"/>
<line x1="888.8" y1="259.6" x2="874.6" y2="257.2" stroke="#8a6a70" stroke-width="1.2"/>
<line x1="894.8" y1="254.9" x2="888.9" y2="249.0" stroke="#8a6a70" stroke-width="1.2"/>
<line x1="903.2" y1="254.9" x2="909.1" y2="249.0" stroke="#8a6a70" stroke-width="1.2"/>
<line x1="909.2" y1="259.6" x2="923.4" y2="257.2" stroke="#8a6a70" stroke-width="1.2"/>
<path d="M909.0,263.0 L909.5,263.6 L909.8,264.2 L909.9,264.9 L909.8,265.5 L909.4,266.0 L908.8,266.5 L908.0,266.8 L907.3,267.1 L906.5,267.4 L905.9,267.6 L905.3,267.9 L904.9,268.3 L904.6,268.7 L904.3,269.3 L904.0,269.9 L903.6,270.5 L903.1,271.1 L902.4,271.5 L901.7,271.7 L900.9,271.7 L900.1,271.5 L899.4,271.2 L898.7,270.8 L898.0,270.4 L897.4,270.1 L896.9,269.8 L896.3,269.7 L895.6,269.8 L894.8,269.8 L894.0,269.9 L893.1,270.0 L892.3,269.9 L891.5,269.6 L890.9,269.2 L890.5,268.7 L890.3,268.0 L890.3,267.3 L890.4,266.7 L890.5,266.0 L890.6,265.5 L890.5,264.9 L890.3,264.5 L890.0,264.0 L889.5,263.5 L889.0,263.0 L888.5,262.4 L888.2,261.8 L888.1,261.1 L888.2,260.5 L888.6,260.0 L889.2,259.5 L890.0,259.2 L890.7,258.9 L891.5,258.6 L892.1,258.4 L892.7,258.1 L893.1,257.7 L893.4,257.3 L893.7,256.7 L894.0,256.1 L894.4,255.5 L894.9,254.9 L895.6,254.5 L896.3,254.3 L897.1,254.3 L897.9,254.5 L898.6,254.8 L899.3,255.2 L900.0,255.6 L900.6,255.9 L901.1,256.2 L901.7,256.3 L902.4,256.2 L903.2,256.2 L904.0,256.1 L904.9,256.0 L905.7,256.1 L906.5,256.4 L907.1,256.8 L907.5,257.3 L907.7,258.0 L907.7,258.7 L907.6,259.3 L907.5,260.0 L907.4,260.5 L907.5,261.1 L907.7,261.5 L908.0,262.0 L908.5,262.5 L909.0,263.0Z" fill="#fff" stroke="#444" stroke-width="1.8"/>
<ellipse cx="964.5" cy="258.5" rx="17" ry="10.5" fill="#f9dde1" stroke="#555" stroke-width="1.8"/>
<ellipse cx="964" cy="258.5" rx="6" ry="4.5" fill="#fff" stroke="#333" stroke-width="2"/>
</g>
<g filter="url(#bl)">
<rect x="80.5" y="558" width="8" height="128" fill="#ea8098" stroke="#d8587a" stroke-width="1.2"/>
<rect x="80" y="695" width="8" height="29" fill="#7a7a7a"/>
<path d="M780,566 L840,564 L895,566 L895.5,566.0 L897.0,567.2 L897.0,568.4 L895.5,569.6 L893.9,570.8 L893.5,572.0 L894.8,573.2 L896.4,574.5 L896.8,575.7 L895.5,576.9 L893.8,578.1 L893.1,579.3 L894.0,580.5 L895.7,581.7 L896.5,582.9 L895.5,584.1 L893.7,585.3 L892.7,586.5 L893.4,587.7 L895.0,588.9 L896.1,590.1 L895.5,591.4 L893.8,592.6 L892.4,593.8 L892.7,595.0 L894.3,596.2 L895.6,597.4 L895.4,598.6 L893.8,599.8 L892.2,601.0 L892.2,602.2 L893.6,603.4 L895.1,604.6 L895.2,605.8 L893.8,607.0 L892.1,608.3 L891.7,609.5 L892.8,610.7 L894.5,611.9 L895.0,613.1 L893.8,614.3 L892.0,615.5 L891.2,616.7 L892.1,617.9 L893.8,619.1 L894.7,620.3 L893.8,621.5 L892.0,622.7 L890.9,623.9 L891.5,625.2 L893.1,626.4 L894.3,627.6 L893.8,628.8 L892.0,630.0 L890.7,631.2 L890.8,632.4 L892.4,633.6 L893.8,634.8 L893.6,636.0 L892.1,637.2 L890.5,638.4 L890.3,639.6 L891.6,640.8 L893.2,642.1 L893.5,643.3 L892.1,644.5 L890.4,645.7 L889.8,646.9 L890.9,648.1 L892.6,649.3 L893.2,650.5 L892.1,651.7 L890.3,652.9 L889.4,654.1 L890.2,655.3 L891.9,656.5 L892.8,657.7 L892.1,659.0 L890.3,660.2 L889.1,661.4 L889.6,662.6 L891.2,663.8 L892.4,665.0 L892.0,666.2 L890.3,667.4 L888.9,668.6 L889.0,669.8 L890.4,671.0 L891.9,672.2 L891.9,673.4 L890.4,674.6 L888.7,675.9 L888.4,677.1 L889.7,678.3 L891.3,679.5 L891.7,680.7 L890.4,681.9 L888.6,683.1 L888.0,684.3 L889.0,685.5 L890.7,686.7 L891.4,687.9 L890.4,689.1 L888.6,690.3 L887.6,691.5 L888.3,692.8 L890.0,694.0 L891.0,695.2 L890.4,696.4 L888.6,697.6 L887.3,698.8 L887.7,700.0 L780,700 Z" fill="#f3a7b4"/>
<polyline points="895.5,566.0 897.0,567.2 897.0,568.4 895.5,569.6 893.9,570.8 893.5,572.0 894.8,573.2 896.4,574.5 896.8,575.7 895.5,576.9 893.8,578.1 893.1,579.3 894.0,580.5 895.7,581.7 896.5,582.9 895.5,584.1 893.7,585.3 892.7,586.5 893.4,587.7 895.0,588.9 896.1,590.1 895.5,591.4 893.8,592.6 892.4,593.8 892.7,595.0 894.3,596.2 895.6,597.4 895.4,598.6 893.8,599.8 892.2,601.0 892.2,602.2 893.6,603.4 895.1,604.6 895.2,605.8 893.8,607.0 892.1,608.3 891.7,609.5 892.8,610.7 894.5,611.9 895.0,613.1 893.8,614.3 892.0,615.5 891.2,616.7 892.1,617.9 893.8,619.1 894.7,620.3 893.8,621.5 892.0,622.7 890.9,623.9 891.5,625.2 893.1,626.4 894.3,627.6 893.8,628.8 892.0,630.0 890.7,631.2 890.8,632.4 892.4,633.6 893.8,634.8 893.6,636.0 892.1,637.2 890.5,638.4 890.3,639.6 891.6,640.8 893.2,642.1 893.5,643.3 892.1,644.5 890.4,645.7 889.8,646.9 890.9,648.1 892.6,649.3 893.2,650.5 892.1,651.7 890.3,652.9 889.4,654.1 890.2,655.3 891.9,656.5 892.8,657.7 892.1,659.0 890.3,660.2 889.1,661.4 889.6,662.6 891.2,663.8 892.4,665.0 892.0,666.2 890.3,667.4 888.9,668.6 889.0,669.8 890.4,671.0 891.9,672.2 891.9,673.4 890.4,674.6 888.7,675.9 888.4,677.1 889.7,678.3 891.3,679.5 891.7,680.7 890.4,681.9 888.6,683.1 888.0,684.3 889.0,685.5 890.7,686.7 891.4,687.9 890.4,689.1 888.6,690.3 887.6,691.5 888.3,692.8 890.0,694.0 891.0,695.2 890.4,696.4 888.6,697.6 887.3,698.8 887.7,700.0" fill="none" stroke="#2a1a1e" stroke-width="2.8"/>
<path d="M780,566 C820,563 860,562 895,566" fill="none" stroke="#2a1a1e" stroke-width="2.4"/>
<path d="M860,572 C870,575 880,573 890,574" fill="none" stroke="#5a3a40" stroke-width="1.4" stroke-dasharray="3 3"/>
<path d="M904.6,700.0 L902.9,698.8 L902.2,697.6 L903.2,696.4 L905.0,695.2 L905.8,694.0 L904.9,692.7 L903.1,691.5 L902.2,690.3 L902.9,689.1 L904.6,687.9 L905.7,686.7 L905.2,685.5 L903.4,684.3 L902.2,683.1 L902.6,681.9 L904.2,680.7 L905.6,679.4 L905.4,678.2 L903.8,677.0 L902.3,675.8 L902.3,674.6 L903.8,673.4 L905.4,672.2 L905.5,671.0 L904.1,669.8 L902.5,668.6 L902.2,667.4 L903.5,666.1 L905.1,664.9 L905.6,663.7 L904.5,662.5 L902.7,661.3 L902.1,660.1 L903.1,658.9 L904.8,657.7 L905.6,656.5 L904.8,655.3 L903.0,654.1 L902.0,652.8 L902.7,651.6 L904.5,650.4 L905.6,649.2 L905.0,648.0 L903.3,646.8 L902.1,645.6 L902.4,644.4 L904.1,643.2 L905.4,642.0 L905.2,640.8 L903.7,639.5 L902.2,638.3 L902.2,637.1 L903.7,635.9 L905.2,634.7 L905.4,633.5 L904.0,632.3 L902.4,631.1 L902.0,629.9 L903.3,628.7 L905.0,627.5 L905.5,626.2 L904.3,625.0 L902.6,623.8 L901.9,622.6 L902.9,621.4 L904.6,620.2 L905.5,619.0 L904.6,617.8 L902.9,616.6 L901.9,615.4 L902.6,614.2 L904.3,612.9 L905.4,611.7 L904.9,610.5 L903.2,609.3 L901.9,608.1 L902.3,606.9 L903.9,605.7 L905.3,604.5 L905.1,603.3 L903.6,602.1 L902.1,600.9 L902.0,599.6 L903.5,598.4 L905.1,597.2 L905.3,596.0 L903.9,594.8 L902.2,593.6 L901.9,592.4 L903.1,591.2 L904.8,590.0 L905.4,588.8 L904.2,587.6 L902.5,586.3 L901.8,585.1 L902.7,583.9 L904.5,582.7 L905.4,581.5 L904.5,580.3 L902.8,579.1 L901.8,577.9 L902.4,576.7 L904.1,575.5 L905.3,574.3 L904.8,573.0 L903.1,571.8 L901.8,570.6 L902.1,569.4 L903.7,568.2 L905.1,567.0 L952.0,567.0 L952.0,568.2 L950.4,569.4 L948.7,570.6 L948.3,571.8 L949.5,573.0 L951.0,574.3 L951.3,575.5 L950.0,576.7 L948.2,577.9 L947.4,579.1 L948.3,580.3 L949.9,581.5 L950.6,582.7 L949.6,583.9 L947.7,585.1 L946.6,586.3 L947.2,587.6 L948.8,588.8 L949.8,590.0 L949.1,591.2 L947.2,592.4 L945.9,593.6 L946.1,594.8 L947.7,596.0 L948.9,597.2 L948.5,598.4 L946.8,599.6 L945.2,600.9 L945.1,602.1 L946.5,603.3 L947.9,604.5 L947.9,605.7 L946.4,606.9 L944.6,608.1 L944.2,609.3 L945.3,610.5 L946.9,611.7 L947.2,612.9 L946.0,614.2 L944.1,615.4 L943.3,616.6 L944.2,617.8 L945.8,619.0 L946.5,620.2 L945.5,621.4 L943.6,622.6 L942.5,623.8 L943.1,625.0 L944.7,626.2 L945.7,627.5 L945.0,628.7 L943.2,629.9 L941.8,631.1 L942.0,632.3 L943.5,633.5 L944.8,634.7 L944.5,635.9 L942.7,637.1 L941.1,638.3 L941.0,639.5 L942.4,640.8 L943.8,642.0 L943.8,643.2 L942.3,644.4 L940.6,645.6 L940.1,646.8 L941.2,648.0 L942.8,649.2 L943.2,650.4 L941.9,651.6 L940.0,652.8 L939.2,654.1 L940.1,655.3 L941.7,656.5 L942.4,657.7 L941.4,658.9 L939.6,660.1 L938.4,661.3 L939.0,662.5 L940.6,663.7 L941.6,664.9 L940.9,666.1 L939.1,667.4 L937.7,668.6 L937.9,669.8 L939.4,671.0 L940.7,672.2 L940.4,673.4 L938.7,674.6 L937.1,675.8 L936.9,677.0 L938.3,678.2 L939.7,679.4 L939.8,680.7 L938.3,681.9 L936.5,683.1 L936.0,684.3 L937.1,685.5 L938.7,686.7 L939.1,687.9 L937.8,689.1 L936.0,690.3 L935.1,691.5 L936.0,692.7 L937.6,694.0 L938.3,695.2 L937.4,696.4 L935.5,697.6 L934.3,698.8 L934.9,700.0Z" fill="#f3a7b4"/>
<polyline points="905.1,567.0 903.7,568.2 902.1,569.4 901.8,570.6 903.1,571.8 904.8,573.0 905.3,574.3 904.1,575.5 902.4,576.7 901.8,577.9 902.8,579.1 904.5,580.3 905.4,581.5 904.5,582.7 902.7,583.9 901.8,585.1 902.5,586.3 904.2,587.6 905.4,588.8 904.8,590.0 903.1,591.2 901.9,592.4 902.2,593.6 903.9,594.8 905.3,596.0 905.1,597.2 903.5,598.4 902.0,599.6 902.1,600.9 903.6,602.1 905.1,603.3 905.3,604.5 903.9,605.7 902.3,606.9 901.9,608.1 903.2,609.3 904.9,610.5 905.4,611.7 904.3,612.9 902.6,614.2 901.9,615.4 902.9,616.6 904.6,617.8 905.5,619.0 904.6,620.2 902.9,621.4 901.9,622.6 902.6,623.8 904.3,625.0 905.5,626.2 905.0,627.5 903.3,628.7 902.0,629.9 902.4,631.1 904.0,632.3 905.4,633.5 905.2,634.7 903.7,635.9 902.2,637.1 902.2,638.3 903.7,639.5 905.2,640.8 905.4,642.0 904.1,643.2 902.4,644.4 902.1,645.6 903.3,646.8 905.0,648.0 905.6,649.2 904.5,650.4 902.7,651.6 902.0,652.8 903.0,654.1 904.8,655.3 905.6,656.5 904.8,657.7 903.1,658.9 902.1,660.1 902.7,661.3 904.5,662.5 905.6,663.7 905.1,664.9 903.5,666.1 902.2,667.4 902.5,668.6 904.1,669.8 905.5,671.0 905.4,672.2 903.8,673.4 902.3,674.6 902.3,675.8 903.8,677.0 905.4,678.2 905.6,679.4 904.2,680.7 902.6,681.9 902.2,683.1 903.4,684.3 905.2,685.5 905.7,686.7 904.6,687.9 902.9,689.1 902.2,690.3 903.1,691.5 904.9,692.7 905.8,694.0 905.0,695.2 903.2,696.4 902.2,697.6 902.9,698.8 904.6,700.0" fill="none" stroke="#2a1a1e" stroke-width="2.8"/>
<polyline points="952.0,567.0 952.0,568.2 950.4,569.4 948.7,570.6 948.3,571.8 949.5,573.0 951.0,574.3 951.3,575.5 950.0,576.7 948.2,577.9 947.4,579.1 948.3,580.3 949.9,581.5 950.6,582.7 949.6,583.9 947.7,585.1 946.6,586.3 947.2,587.6 948.8,588.8 949.8,590.0 949.1,591.2 947.2,592.4 945.9,593.6 946.1,594.8 947.7,596.0 948.9,597.2 948.5,598.4 946.8,599.6 945.2,600.9 945.1,602.1 946.5,603.3 947.9,604.5 947.9,605.7 946.4,606.9 944.6,608.1 944.2,609.3 945.3,610.5 946.9,611.7 947.2,612.9 946.0,614.2 944.1,615.4 943.3,616.6 944.2,617.8 945.8,619.0 946.5,620.2 945.5,621.4 943.6,622.6 942.5,623.8 943.1,625.0 944.7,626.2 945.7,627.5 945.0,628.7 943.2,629.9 941.8,631.1 942.0,632.3 943.5,633.5 944.8,634.7 944.5,635.9 942.7,637.1 941.1,638.3 941.0,639.5 942.4,640.8 943.8,642.0 943.8,643.2 942.3,644.4 940.6,645.6 940.1,646.8 941.2,648.0 942.8,649.2 943.2,650.4 941.9,651.6 940.0,652.8 939.2,654.1 940.1,655.3 941.7,656.5 942.4,657.7 941.4,658.9 939.6,660.1 938.4,661.3 939.0,662.5 940.6,663.7 941.6,664.9 940.9,666.1 939.1,667.4 937.7,668.6 937.9,669.8 939.4,671.0 940.7,672.2 940.4,673.4 938.7,674.6 937.1,675.8 936.9,677.0 938.3,678.2 939.7,679.4 939.8,680.7 938.3,681.9 936.5,683.1 936.0,684.3 937.1,685.5 938.7,686.7 939.1,687.9 937.8,689.1 936.0,690.3 935.1,691.5 936.0,692.7 937.6,694.0 938.3,695.2 937.4,696.4 935.5,697.6 934.3,698.8 934.9,700.0" fill="none" stroke="#2a1a1e" stroke-width="2.8"/>
<path d="M903.5,567 C912,562 940,562 950.5,567" fill="none" stroke="#2a1a1e" stroke-width="2.4"/>
<path d="M912,572 C925,570 935,571 945,573" fill="none" stroke="#5a3a40" stroke-width="1.4" stroke-dasharray="3 3"/>
<path d="M922,578 C930,582 926,592 932,600 C928,608 924,612 927,622" fill="none" stroke="#3a2a2e" stroke-width="2.2" stroke-dasharray="4 2"/>
<path d="M916,590 C914,600 918,610 915,625" fill="none" stroke="#5a3a40" stroke-width="1.4" stroke-dasharray="3 3"/>
<path d="M954.4,658.0 L955.8,656.8 L957.5,655.6 L957.8,654.4 L956.5,653.2 L954.9,652.0 L954.5,650.8 L955.7,649.5 L957.4,648.3 L958.1,647.1 L957.1,645.9 L955.4,644.7 L954.6,643.5 L955.5,642.3 L957.3,641.1 L958.3,639.9 L957.6,638.7 L955.9,637.5 L954.9,636.2 L955.4,635.0 L957.2,633.8 L958.5,632.6 L958.1,631.4 L956.5,630.2 L955.2,629.0 L955.4,627.8 L957.0,626.6 L958.5,625.4 L958.5,624.2 L957.1,623.0 L955.6,621.8 L955.4,620.5 L956.8,619.3 L958.5,618.1 L958.9,616.9 L957.7,615.7 L956.0,614.5 L955.5,613.3 L956.7,612.1 L958.4,610.9 L959.2,609.7 L958.2,608.5 L956.5,607.2 L955.7,606.0 L956.6,604.8 L958.3,603.6 L959.4,602.4 L958.8,601.2 L957.1,600.0 L955.9,598.8 L956.5,597.6 L958.2,596.4 L959.5,595.2 L959.2,594.0 L957.6,592.8 L956.3,591.5 L956.4,590.3 L958.0,589.1 L959.6,587.9 L959.6,586.7 L958.2,585.5 L956.7,584.3 L956.5,583.1 L957.9,581.9 L959.5,580.7 L960.0,579.5 L958.8,578.2 L957.1,577.0 L956.6,575.8 L957.7,574.6 L959.5,573.4 L960.3,572.2 L959.4,571.0 L983.5,571 L983.5,686 L952,686 L952,658 Z" fill="#f3a7b4"/>
<polyline points="959.4,571.0 960.3,572.2 959.5,573.4 957.7,574.6 956.6,575.8 957.1,577.0 958.8,578.2 960.0,579.5 959.5,580.7 957.9,581.9 956.5,583.1 956.7,584.3 958.2,585.5 959.6,586.7 959.6,587.9 958.0,589.1 956.4,590.3 956.3,591.5 957.6,592.8 959.2,594.0 959.5,595.2 958.2,596.4 956.5,597.6 955.9,598.8 957.1,600.0 958.8,601.2 959.4,602.4 958.3,603.6 956.6,604.8 955.7,606.0 956.5,607.2 958.2,608.5 959.2,609.7 958.4,610.9 956.7,612.1 955.5,613.3 956.0,614.5 957.7,615.7 958.9,616.9 958.5,618.1 956.8,619.3 955.4,620.5 955.6,621.8 957.1,623.0 958.5,624.2 958.5,625.4 957.0,626.6 955.4,627.8 955.2,629.0 956.5,630.2 958.1,631.4 958.5,632.6 957.2,633.8 955.4,635.0 954.9,636.2 955.9,637.5 957.6,638.7 958.3,639.9 957.3,641.1 955.5,642.3 954.6,643.5 955.4,644.7 957.1,645.9 958.1,647.1 957.4,648.3 955.7,649.5 954.5,650.8 954.9,652.0 956.5,653.2 957.8,654.4 957.5,655.6 955.8,656.8 954.4,658.0" fill="none" stroke="#2a1a1e" stroke-width="2.8"/>
<path d="M958.5,571 C966,566 976,566 983.5,570" fill="none" stroke="#2a1a1e" stroke-width="2.4"/>
<path d="M966,580 C965,600 968,620 966,645" fill="none" stroke="#5a3a40" stroke-width="1.5" stroke-dasharray="3 3"/>
<rect x="880" y="703.5" width="101" height="20" fill="#e6e6e6" stroke="#444" stroke-width="1.8"/>
<rect x="978.5" y="695" width="5" height="30" fill="#555"/>
</g>
<g filter="url(#bl)">
<line x1="483" y1="733" x2="483" y2="743" stroke="#222" stroke-width="2"/>
<line x1="550" y1="733" x2="550" y2="743" stroke="#222" stroke-width="2"/>
<rect x="382" y="743" width="268" height="20" fill="#fbd8dc" stroke="#222" stroke-width="2"/>
<text x="409" y="758" font-size="15" font-weight="bold" fill="#444" textLength="214" lengthAdjust="spacingAndGlyphs">Ovulatory Phase</text>
</g>
<rect x="80" y="783" width="904" height="59" fill="#d5d5d5"/>
<line x1="80" y1="783.5" x2="984" y2="783.5" stroke="#222" stroke-width="2"/>
<g fill="#333" font-weight="bold" font-size="13.5" filter="url(#bl)" text-anchor="middle">
<text x="86.5" y="809" transform="translate(86.5,0) scale(1.75,1) translate(-86.5,0)">1</text>
<text x="114.4" y="800" transform="translate(114.4,0) scale(1.75,1) translate(-114.4,0)">2</text>
<text x="147.8" y="809" transform="translate(147.8,0) scale(1.75,1) translate(-147.8,0)">3</text>
<text x="181.2" y="800" transform="translate(181.2,0) scale(1.75,1) translate(-181.2,0)">4</text>
<text x="214.6" y="809" transform="translate(214.6,0) scale(1.75,1) translate(-214.6,0)">5</text>
<text x="248.0" y="800" transform="translate(248.0,0) scale(1.75,1) translate(-248.0,0)">6</text>
<text x="281.4" y="809" transform="translate(281.4,0) scale(1.75,1) translate(-281.4,0)">7</text>
<text x="314.9" y="800" transform="translate(314.9,0) scale(1.75,1) translate(-314.9,0)">8</text>
<text x="348.3" y="809" transform="translate(348.3,0) scale(1.75,1) translate(-348.3,0)">9</text>
<text x="381.7" y="800" transform="translate(381.7,0) scale(1.75,1) translate(-381.7,0)">10</text>
<text x="415.1" y="809" transform="translate(415.1,0) scale(1.75,1) translate(-415.1,0)">11</text>
<text x="448.5" y="800" transform="translate(448.5,0) scale(1.75,1) translate(-448.5,0)">12</text>
<text x="481.9" y="809" transform="translate(481.9,0) scale(1.75,1) translate(-481.9,0)">13</text>
<text x="515.3" y="800" transform="translate(515.3,0) scale(1.75,1) translate(-515.3,0)">14</text>
<text x="548.7" y="809" transform="translate(548.7,0) scale(1.75,1) translate(-548.7,0)">15</text>
<text x="582.1" y="800" transform="translate(582.1,0) scale(1.75,1) translate(-582.1,0)">16</text>
<text x="615.5" y="809" transform="translate(615.5,0) scale(1.75,1) translate(-615.5,0)">17</text>
<text x="648.9" y="800" transform="translate(648.9,0) scale(1.75,1) translate(-648.9,0)">18</text>
<text x="682.3" y="809" transform="translate(682.3,0) scale(1.75,1) translate(-682.3,0)">19</text>
<text x="715.7" y="800" transform="translate(715.7,0) scale(1.75,1) translate(-715.7,0)">20</text>
<text x="749.1" y="809" transform="translate(749.1,0) scale(1.75,1) translate(-749.1,0)">21</text>
<text x="782.6" y="800" transform="translate(782.6,0) scale(1.75,1) translate(-782.6,0)">22</text>
<text x="816.0" y="809" transform="translate(816.0,0) scale(1.75,1) translate(-816.0,0)">23</text>
<text x="849.4" y="800" transform="translate(849.4,0) scale(1.75,1) translate(-849.4,0)">24</text>
<text x="882.8" y="809" transform="translate(882.8,0) scale(1.75,1) translate(-882.8,0)">25</text>
<text x="916.2" y="800" transform="translate(916.2,0) scale(1.75,1) translate(-916.2,0)">26</text>
<text x="949.6" y="809" transform="translate(949.6,0) scale(1.75,1) translate(-949.6,0)">27</text>
<text x="983.0" y="800" transform="translate(983.0,0) scale(1.75,1) translate(-983.0,0)">28</text>
<text x="435" y="830" font-size="16" text-anchor="start" textLength="161" lengthAdjust="spacingAndGlyphs">Day of Cycle</text>
</g>
</g>
<g id="chart">
<g stroke="#7f7f7f" stroke-width="1">
<line x1="87.6" y1="733.5" x2="952.2" y2="733.5"/>
<line x1="87.6" y1="668.5" x2="952.2" y2="668.5"/>
<line x1="87.6" y1="603.5" x2="952.2" y2="603.5"/>
<line x1="87.6" y1="538.5" x2="952.2" y2="538.5"/>
<line x1="87.6" y1="473.5" x2="952.2" y2="473.5"/>
<line x1="87.6" y1="408.5" x2="952.2" y2="408.5"/>
<line x1="87.6" y1="343.5" x2="952.2" y2="343.5"/>
<line x1="87.6" y1="278.5" x2="952.2" y2="278.5"/>
<line x1="87.6" y1="213.5" x2="952.2" y2="213.5"/>
<line x1="87.6" y1="148.5" x2="952.2" y2="148.5"/>
<line x1="87.6" y1="83.5" x2="952.2" y2="83.5"/>
<line x1="87.6" y1="83" x2="87.6" y2="733.5"/>
</g>
<path d="M87.6,167.8 195.7,177.5 303.8,338.1 411.8,365.4 519.9,379.7 628.0,496.7 736.1,509.7 844.1,574.0 952.2,638.4 L952.2,697.5 844.1,661.8 736.1,640.3 628.0,628.0 519.9,576.0 411.8,563.0 303.8,536.3 195.7,447.3 87.6,440.8 Z" fill="#9ee05a"/>
<path d="M87.6,440.8 195.7,447.3 303.8,536.3 411.8,563.0 519.9,576.0 628.0,628.0 736.1,640.3 844.1,661.8 952.2,697.5 L952.2,713.8 844.1,713.8 736.1,700.8 628.0,695.6 519.9,682.6 411.8,674.8 303.8,663.8 195.7,635.8 87.6,629.3 Z" fill="url(#gOr)"/>
<path d="M87.6,733.3 L87.6,629.3 195.7,635.8 303.8,663.8 411.8,674.8 519.9,682.6 628.0,695.6 736.1,700.8 844.1,713.8 952.2,713.8 L952.2,733.3 Z" fill="url(#gRd)"/>
<g clip-path="url(#cG)"><g filter="url(#bl3)" opacity="1.0">
<polygon points="85.6,164.8 197.7,174.5 197.7,183.5 85.6,173.8" fill="#c6f98c"/>
<polygon points="193.7,174.5 305.8,335.1 305.8,344.1 193.7,183.5" fill="#a8e66a"/>
<polygon points="301.8,335.1 413.8,362.4 413.8,371.4 301.8,344.1" fill="#c2f788"/>
<polygon points="409.8,362.4 521.9,376.7 521.9,385.7 409.8,371.4" fill="#c6f98c"/>
<polygon points="517.9,376.7 630.0,493.7 630.0,502.7 517.9,385.7" fill="#a8e66a"/>
<polygon points="626.0,493.7 738.1,506.7 738.1,515.7 626.0,502.7" fill="#c6f98c"/>
<polygon points="734.1,506.7 846.1,571.0 846.1,580.0 734.1,515.7" fill="#b6ef7a"/>
<polygon points="842.1,571.0 954.2,635.4 954.2,644.4 842.1,580.0" fill="#b6ef7a"/>
</g></g>
<g clip-path="url(#cO)"><g filter="url(#bl3)" opacity="0.9">
<polygon points="85.6,437.8 197.7,444.3 197.7,452.8 85.6,446.3" fill="#ffcf58"/>
<polygon points="193.7,444.3 305.8,533.3 305.8,541.8 193.7,452.8" fill="#fdbf4b"/>
<polygon points="301.8,533.3 413.8,560.0 413.8,568.5 301.8,541.8" fill="#ffcd56"/>
<polygon points="409.8,560.0 521.9,573.0 521.9,581.5 409.8,568.5" fill="#ffcf58"/>
<polygon points="517.9,573.0 630.0,625.0 630.0,633.5 517.9,581.5" fill="#fec752"/>
<polygon points="626.0,625.0 738.1,637.3 738.1,645.8 626.0,633.5" fill="#ffcf58"/>
<polygon points="734.1,637.3 846.1,658.8 846.1,667.3 734.1,645.8" fill="#ffce57"/>
<polygon points="842.1,658.8 954.2,694.5 954.2,703.0 842.1,667.3" fill="#ffcb55"/>
</g></g>
<g clip-path="url(#cR)"><g filter="url(#bl3)" opacity="0.8">
<polygon points="85.6,626.3 197.7,632.8 197.7,640.8 85.6,634.3" fill="#ff5a48"/>
<polygon points="193.7,632.8 305.8,660.8 305.8,668.8 193.7,640.8" fill="#ff5846"/>
<polygon points="301.8,660.8 413.8,671.8 413.8,679.8 301.8,668.8" fill="#ff5a48"/>
<polygon points="409.8,671.8 521.9,679.6 521.9,687.6 409.8,679.8" fill="#ff5a48"/>
<polygon points="517.9,679.6 630.0,692.6 630.0,700.6 517.9,687.6" fill="#ff5a48"/>
<polygon points="626.0,692.6 738.1,697.8 738.1,705.8 626.0,700.6" fill="#ff5a48"/>
<polygon points="734.1,697.8 846.1,710.8 846.1,718.8 734.1,705.8" fill="#ff5a48"/>
<polygon points="842.1,710.8 954.2,710.8 954.2,718.8 842.1,718.8" fill="#ff5a48"/>
</g></g>
<g clip-path="url(#cG)"><polyline points="87.6,440.8 195.7,447.3 303.8,536.3 411.8,563.0 519.9,576.0 628.0,628.0 736.1,640.3 844.1,661.8 952.2,697.5" fill="none" stroke="#3a7a10" stroke-opacity="0.35" stroke-width="11" stroke-linejoin="miter" filter="url(#bl3)"/></g>
<g clip-path="url(#cO)"><polyline points="87.6,629.3 195.7,635.8 303.8,663.8 411.8,674.8 519.9,682.6 628.0,695.6 736.1,700.8 844.1,713.8 952.2,713.8" fill="none" stroke="#7a3a10" stroke-opacity="0.35" stroke-width="11" stroke-linejoin="miter" filter="url(#bl3)"/></g>
<polyline points="87.6,167.8 195.7,177.5 303.8,338.1 411.8,365.4 519.9,379.7 628.0,496.7 736.1,509.7 844.1,574.0 952.2,638.4" fill="none" stroke="#4f7f2a" stroke-width="1.3"/>
<polyline points="87.6,440.8 195.7,447.3 303.8,536.3 411.8,563.0 519.9,576.0 628.0,628.0 736.1,640.3 844.1,661.8 952.2,697.5" fill="none" stroke="#4f6a1a" stroke-width="1.5"/>
<polyline points="87.6,629.3 195.7,635.8 303.8,663.8 411.8,674.8 519.9,682.6 628.0,695.6 736.1,700.8 844.1,713.8 952.2,713.8" fill="none" stroke="#8a4a1a" stroke-width="1.4"/>
<line x1="87.6" y1="733.2" x2="952.2" y2="733.2" stroke="#a01010" stroke-width="1.2"/>
<line x1="87.6" y1="167.8" x2="87.6" y2="733.5" stroke="#555" stroke-width="1"/>
<line x1="952.2" y1="638.4" x2="952.2" y2="733.5" stroke="#555" stroke-width="1"/>
<g font-size="17.5" fill="#000" text-anchor="end" letter-spacing="1.0">
<text x="69.3" y="739.6">0.0</text>
<text x="69.3" y="674.6">10.0</text>
<text x="69.3" y="609.6">20.0</text>
<text x="69.3" y="544.6">30.0</text>
<text x="69.3" y="479.6">40.0</text>
<text x="69.3" y="414.6">50.0</text>
<text x="69.3" y="349.6">60.0</text>
<text x="69.3" y="284.6">70.0</text>
<text x="69.3" y="219.6">80.0</text>
<text x="69.3" y="154.6">90.0</text>
<text x="69.3" y="89.6">100.0</text>
</g>
<g font-size="17.5" fill="#000" text-anchor="middle" letter-spacing="1.3">
<text x="88.2" y="767.5">26-27</text>
<text x="196.3" y="767.5">28-29</text>
<text x="304.4" y="767.5">30-31</text>
<text x="412.5" y="767.5">32-33</text>
<text x="520.5" y="767.5">34-35</text>
<text x="628.6" y="767.5">36-37</text>
<text x="736.7" y="767.5">38-39</text>
<text x="844.8" y="767.5">40-41</text>
<text x="952.9" y="767.5">42-43</text>
</g>
<text x="527" y="794" font-size="19" font-weight="bold" text-anchor="middle">AGE</text>
<text transform="translate(25,409) rotate(-90)" font-size="18.3" font-weight="bold" text-anchor="middle">pmol/L</text>
<g font-size="18" fill="#000" stroke="#000" stroke-width="0.25">
<rect x="335.5" y="102.0" width="12" height="11" fill="url(#mG)" stroke="#5a9030" stroke-width="0.8"/>
<text x="352.8" y="114.5" textLength="223" lengthAdjust="spacing">&gt;75% Percentile: Probable</text>
<text x="352.8" y="138.7" textLength="45" lengthAdjust="spacing">PCOS</text>
<rect x="335.5" y="162.8" width="12" height="11" fill="url(#mO)" stroke="#b06818" stroke-width="0.8"/>
<text x="352.8" y="175.3" textLength="227" lengthAdjust="spacing">25-75% Percentile: Normal</text>
<text x="352.8" y="199.5" textLength="135" lengthAdjust="spacing">Ovarian Reserve</text>
<rect x="335.5" y="223.7" width="12" height="11" fill="url(#mR)" stroke="#a01010" stroke-width="0.8"/>
<text x="352.8" y="236.2" textLength="251.5" lengthAdjust="spacing">&lt;25% Percentile: Low Ovarian</text>
<text x="352.8" y="260.4" textLength="65" lengthAdjust="spacing">Reserve</text>
</g>
</g>
</svg></body></html>
